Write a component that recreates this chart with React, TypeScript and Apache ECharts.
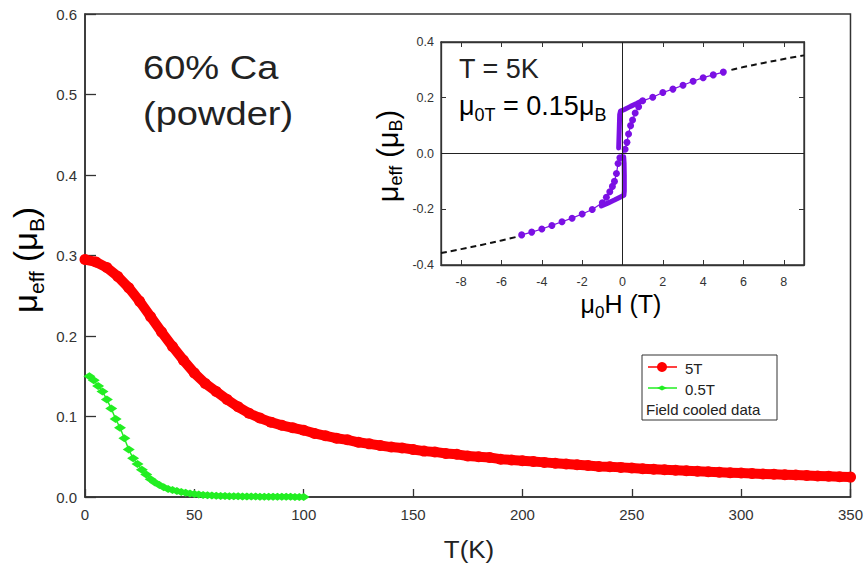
import React, { useEffect, useRef } from 'react';
import * as echarts from 'echarts';

// ---- Main panel: field-cooled data ----
const T_5T = [0, 5, 10, 15, 20, 25, 30, 35, 40, 45, 50, 55, 60, 65, 70, 75, 80, 85, 90, 95, 100,
  105, 110, 115, 120, 125, 130, 135, 140, 145, 150, 155, 160, 165, 170, 175, 180, 185, 190, 195, 200,
  205, 210, 215, 220, 225, 230, 235, 240, 245, 250, 255, 260, 265, 270, 275, 280, 285, 290, 295, 300,
  305, 310, 315, 320, 325, 330, 335, 340, 345, 350];
const M_5T = [0.295, 0.292, 0.285, 0.274, 0.260, 0.243, 0.224, 0.205, 0.187, 0.170, 0.154, 0.141, 0.131, 0.121, 0.112, 0.104, 0.098, 0.093, 0.089, 0.086, 0.083,
  0.079, 0.076, 0.073, 0.071, 0.068, 0.066, 0.064, 0.062, 0.061, 0.059, 0.057, 0.056, 0.054, 0.053, 0.051, 0.050, 0.049, 0.047, 0.046, 0.045,
  0.044, 0.043, 0.042, 0.041, 0.040, 0.039, 0.038, 0.0375, 0.0368, 0.036, 0.0352, 0.0345, 0.0338, 0.0331, 0.0325, 0.0319, 0.0313, 0.0307, 0.0302, 0.0297,
  0.0292, 0.0287, 0.0282, 0.0277, 0.0272, 0.0267, 0.0262, 0.0257, 0.0252, 0.0247];

const T_05T = [2, 4, 6, 8, 10, 12, 14, 16, 18, 20, 22, 24, 26, 28, 30, 32, 34, 36, 38, 40, 42, 44, 46, 48, 50,
  52, 54, 56, 58, 60, 62, 64, 66, 68, 70, 72, 74, 76, 78, 80, 82, 84, 86, 88, 90, 92, 94, 96, 98, 100];
const M_05T = [0.150, 0.145, 0.138, 0.131, 0.121, 0.110, 0.097, 0.086, 0.073, 0.059, 0.048, 0.041, 0.034, 0.028, 0.022, 0.018, 0.015, 0.012, 0.010, 0.0088, 0.0075, 0.0063, 0.0052, 0.0044, 0.0037,
  0.0031, 0.0026, 0.0022, 0.0018, 0.0015, 0.0013, 0.0011, 0.0010, 0.0009, 0.0008, 0.0007, 0.0006, 0.0005, 0.0005, 0.0004, 0.0004, 0.0003, 0.0003, 0.0003, 0.0002, 0.0002, 0.0002, 0.0001, 0.0001, 0.0001];

// ---- Inset: hysteresis at T = 5K ----
const H_BRANCH = [-5, -4.5, -4, -3.5, -3, -2.5, -2, -1.5, -1, -0.8, -0.63, -0.5, -0.4, -0.3, -0.22, -0.13,
  0.13, 0.22, 0.3, 0.4, 0.5, 0.63, 0.8, 1, 1.5, 2, 2.5, 3, 3.5, 4, 4.5, 5];
const M_BRANCH = [-0.292, -0.282, -0.271, -0.258, -0.245, -0.232, -0.217, -0.201, -0.177, -0.157, -0.137, -0.118, -0.100, -0.072, -0.036, -0.015,
  0.015, 0.040, 0.070, 0.100, 0.120, 0.145, 0.168, 0.189, 0.202, 0.219, 0.231, 0.245, 0.259, 0.272, 0.282, 0.292];

const H_LOOP_UP = [1.0, 0.7, 0.4, 0.1, -0.1, -0.14, -0.16, -0.18, -0.19];
const M_LOOP_UP = [0.190, 0.179, 0.169, 0.158, 0.152, 0.140, 0.090, 0.045, 0.020];
const H_LOOP_DOWN = [-1.05, -0.7, -0.4, -0.1, 0.07, 0.09, 0.09, 0.08, 0.06];
const M_LOOP_DOWN = [-0.188, -0.177, -0.167, -0.156, -0.150, -0.135, -0.080, -0.035, -0.012];

const H_FIT_NEG = [-9, -8, -7, -6, -5.3];
const M_FIT_NEG = [-0.357, -0.343, -0.328, -0.312, -0.300];
const H_FIT_POS = [5.4, 6, 7, 8, 9];
const M_FIT_POS = [0.300, 0.310, 0.325, 0.339, 0.352];

const INSET_X_TICKS = [-8, -6, -4, -2, 0, 2, 4, 6, 8];

const FONT = '"Liberation Sans", Arial, Helvetica, sans-serif';
const RED = '#ff0000';
const GREEN = '#22ee22';
const PURPLE = '#7b10e4';
const AX = '#333333';

const zip = (xs: number[], ys: number[]) => xs.map((x, i) => [x, ys[i]]);

export default function App() {
  const ref = useRef<HTMLDivElement>(null);
  useEffect(() => {
    if (!ref.current) return;
    const chart = echarts.init(ref.current, undefined, { renderer: 'svg' });
    const axisCommon = {
      axisLine: { show: true, onZero: false, lineStyle: { color: AX, width: 1.5 } },
      splitLine: { show: false },
    };
    const option: any = {
      animation: false,
      backgroundColor: '#fff',
      grid: [
        { left: 85, top: 14, width: 770, height: 483, show: true, borderColor: AX, borderWidth: 1.5, backgroundColor: 'transparent' },
        { left: 441, top: 42, width: 363, height: 223, show: true, borderColor: AX, borderWidth: 1.3, backgroundColor: '#fff' },
      ],
      xAxis: [
        {
          ...axisCommon, gridIndex: 0, type: 'value', min: 0, max: 350, interval: 50,
          axisTick: { inside: true, length: 8, lineStyle: { color: AX, width: 1.3 } },
          axisLabel: { fontSize: 15, color: AX, margin: 10, fontFamily: FONT },
        },
        {
          ...axisCommon, gridIndex: 1, type: 'value', min: -9, max: 9,
          axisLine: { show: true, onZero: false, lineStyle: { color: AX, width: 1.3 } },
          axisTick: { inside: true, length: 5, customValues: INSET_X_TICKS, lineStyle: { color: AX } },
          axisLabel: { customValues: INSET_X_TICKS, fontSize: 12.5, color: AX, margin: 10, fontFamily: FONT },
        },
        {
          ...axisCommon, gridIndex: 1, type: 'value', min: -9, max: 9, position: 'top',
          axisLine: { show: true, onZero: false, lineStyle: { color: AX, width: 1.3 } },
          axisTick: { inside: true, length: 5, customValues: INSET_X_TICKS, lineStyle: { color: AX } },
          axisLabel: { show: false },
        },
      ],
      yAxis: [
        {
          ...axisCommon, gridIndex: 0, type: 'value', min: 0, max: 0.6, interval: 0.1,
          axisTick: { inside: true, length: 11, lineStyle: { color: AX, width: 1.3 } },
          axisLabel: { fontSize: 15, color: AX, margin: 8, fontFamily: FONT, formatter: (v: number) => v.toFixed(1) },
        },
        {
          ...axisCommon, gridIndex: 1, type: 'value', min: -0.4, max: 0.4, interval: 0.2,
          axisLine: { show: true, onZero: false, lineStyle: { color: AX, width: 1.3 } },
          axisTick: { inside: true, length: 5, lineStyle: { color: AX } },
          axisLabel: { fontSize: 12.5, color: AX, margin: 7, fontFamily: FONT, formatter: (v: number) => v.toFixed(1) },
        },
        {
          ...axisCommon, gridIndex: 1, type: 'value', min: -0.4, max: 0.4, interval: 0.2, position: 'right',
          axisLine: { show: true, onZero: false, lineStyle: { color: AX, width: 1.3 } },
          axisTick: { inside: true, length: 5, lineStyle: { color: AX } },
          axisLabel: { show: false },
        },
      ],
      series: [
        {
          name: '5T', type: 'line', xAxisIndex: 0, yAxisIndex: 0, data: zip(T_5T, M_5T),
          symbol: 'circle', symbolSize: 11, showSymbol: true,
          lineStyle: { color: RED, width: 10, cap: 'round', join: 'round' }, itemStyle: { color: RED },
        },
        {
          name: '0.5T', type: 'line', xAxisIndex: 0, yAxisIndex: 0, data: zip(T_05T, M_05T),
          symbol: 'diamond', symbolSize: [12, 8], showSymbol: true,
          lineStyle: { color: GREEN, width: 1.5 }, itemStyle: { color: GREEN },
        },
        {
          type: 'line', xAxisIndex: 1, yAxisIndex: 1, data: zip(H_FIT_NEG, M_FIT_NEG), symbol: 'none', smooth: true,
          lineStyle: { color: '#111', width: 2, type: [6, 4] },
          markLine: {
            silent: true, symbol: 'none', label: { show: false },
            lineStyle: { color: '#222', type: 'solid', width: 1 },
            data: [{ xAxis: 0 }, { yAxis: 0 }],
          },
        },
        {
          type: 'line', xAxisIndex: 1, yAxisIndex: 1, data: zip(H_FIT_POS, M_FIT_POS), symbol: 'none', smooth: true,
          lineStyle: { color: '#111', width: 2, type: [6, 4] },
        },
        {
          type: 'line', xAxisIndex: 1, yAxisIndex: 1, data: zip(H_LOOP_UP, M_LOOP_UP), symbol: 'none',
          lineStyle: { color: PURPLE, width: 5, cap: 'round', join: 'round' },
        },
        {
          type: 'line', xAxisIndex: 1, yAxisIndex: 1, data: zip(H_LOOP_DOWN, M_LOOP_DOWN), symbol: 'none',
          lineStyle: { color: PURPLE, width: 5, cap: 'round', join: 'round' },
        },
        {
          type: 'line', xAxisIndex: 1, yAxisIndex: 1, data: zip(H_BRANCH, M_BRANCH),
          symbol: 'circle', symbolSize: 7, showSymbol: true,
          lineStyle: { color: PURPLE, width: 1.2 }, itemStyle: { color: PURPLE },
        },
      ],
      graphic: [
        {
          type: 'text', x: 143, y: 67,
          style: { text: '60% Ca', font: `34px ${FONT}`, fill: '#222', align: 'left', verticalAlign: 'middle' },
          scaleX: 1.12,
        },
        {
          type: 'text', x: 143, y: 113,
          style: { text: '(powder)', font: `34px ${FONT}`, fill: '#222', align: 'left', verticalAlign: 'middle' },
          scaleX: 1.12,
        },
        {
          type: 'text', x: 459, y: 69,
          style: { text: 'T = 5K', font: `27px ${FONT}`, fill: '#222', align: 'left', verticalAlign: 'middle' },
        },
        {
          type: 'text', x: 459, y: 108,
          style: {
            text: '{m|μ}{s|0T}{m| = 0.15μ}{s|B}', align: 'left', verticalAlign: 'middle',
            rich: {
              m: { fontSize: 27, fontFamily: FONT, color: '#222', lineHeight: 32, verticalAlign: 'top' },
              s: { fontSize: 18, fontFamily: FONT, color: '#222', lineHeight: 14, verticalAlign: 'bottom' },
            },
          },
        },
        {
          type: 'text', x: 28, y: 260, rotation: Math.PI / 2,
          style: {
            text: '{m|μ}{s|eff}{m| (μ}{s|B}{m|)}', align: 'center', verticalAlign: 'middle',
            rich: {
              m: { fontSize: 33, fontFamily: FONT, color: '#222', lineHeight: 38, verticalAlign: 'top' },
              s: { fontSize: 21, fontFamily: FONT, color: '#222', lineHeight: 16, verticalAlign: 'bottom' },
            },
          },
        },
        {
          type: 'text', x: 469, y: 549,
          style: { text: 'T(K)', font: `24px ${FONT}`, fill: '#222', align: 'center', verticalAlign: 'middle' },
          scaleX: 1.08,
        },
        {
          type: 'text', x: 389, y: 156, rotation: Math.PI / 2,
          style: {
            text: '{m|μ}{s|eff}{m| (μ}{s|B}{m|)}', align: 'center', verticalAlign: 'middle',
            rich: {
              m: { fontSize: 29, fontFamily: FONT, color: '#222', lineHeight: 32, verticalAlign: 'top' },
              s: { fontSize: 18, fontFamily: FONT, color: '#222', lineHeight: 13, verticalAlign: 'bottom' },
            },
          },
        },
        {
          type: 'text', x: 621, y: 306,
          style: {
            text: '{m|μ}{s|0}{m|H (T)}', align: 'center', verticalAlign: 'middle',
            rich: {
              m: { fontSize: 25, fontFamily: FONT, color: '#222', lineHeight: 30, verticalAlign: 'top' },
              s: { fontSize: 17, fontFamily: FONT, color: '#222', lineHeight: 11, verticalAlign: 'bottom' },
            },
          },
        },
        // legend
        {
          type: 'group', children: [
            { type: 'rect', shape: { x: 642, y: 355, width: 135, height: 65 }, style: { fill: '#fff', stroke: AX, lineWidth: 1 } },
            { type: 'line', shape: { x1: 648, y1: 367, x2: 677, y2: 367 }, style: { stroke: RED, lineWidth: 1.5 } },
            { type: 'circle', shape: { cx: 662, cy: 367, r: 5 }, style: { fill: RED } },
            { type: 'text', x: 685, y: 368, style: { text: '5T', font: `15px ${FONT}`, fill: '#222', verticalAlign: 'middle' } },
            { type: 'line', shape: { x1: 648, y1: 388, x2: 677, y2: 388 }, style: { stroke: GREEN, lineWidth: 1.5 } },
            { type: 'polygon', shape: { points: [[657, 388], [662, 385.5], [667, 388], [662, 390.5]] }, style: { fill: GREEN } },
            { type: 'text', x: 685, y: 389, style: { text: '0.5T', font: `15px ${FONT}`, fill: '#222', verticalAlign: 'middle' } },
            { type: 'text', x: 646, y: 409, style: { text: 'Field cooled data', font: `15px ${FONT}`, fill: '#222', verticalAlign: 'middle' } },
          ],
        },
      ],
    };
    chart.setOption(option);
    return () => chart.dispose();
  }, []);
  return <div ref={ref} style={{ position: 'fixed', left: 0, top: 0, width: 866, height: 565 }} />;
}
